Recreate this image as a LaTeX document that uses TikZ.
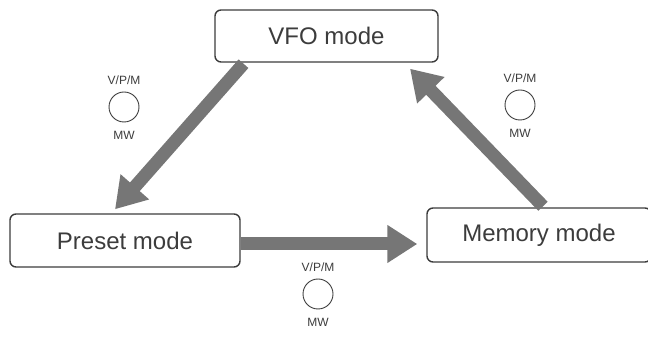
\documentclass[tikz,border=0pt]{standalone}
\usepackage{fontspec}
\setmainfont{Liberation Sans}
\usetikzlibrary{arrows.meta,positioning}
\definecolor{inkgray}{RGB}{60,60,60}
\definecolor{arrowgray}{RGB}{118,118,118}

\begin{document}
\begin{tikzpicture}[x=1pt,y=1pt]
    \tikzstyle{mode}=[draw=inkgray, line width=1.4pt, rounded corners=6pt, text=inkgray, font=\fontsize{24}{28}\selectfont, inner sep=0pt]
    \tikzstyle{switch}=[-{Triangle[length=30pt,width=36pt]}, line width=13pt, draw=arrowgray]
    \tikzstyle{lbl}=[text=inkgray, font=\fontsize{12}{14}\selectfont, inner sep=0pt]
    \tikzstyle{knob}=[draw=inkgray, circle, line width=0.9pt, minimum size=30pt, inner sep=0pt]
    \useasboundingbox (0,0) rectangle (648,345);
    % the three modes
    \node[mode, minimum width=223pt, minimum height=52pt] (vfo) at (326.5,309) {VFO mode};
    \node[mode, minimum width=230pt, minimum height=53pt] (preset) at (125,104.5) {Preset mode};
    \node[mode, minimum width=224pt, minimum height=54pt] (memory) at (539,110) {Memory mode};
    % switching order
    \draw[switch] ([xshift=-83pt,yshift=-1pt]vfo.south) -- ([xshift=-10pt,yshift=4pt]preset.north);
    \draw[switch, shorten >=9pt] ([yshift=-3.5pt]preset.east) -- ([yshift=-3.5pt]preset.east -| memory.west);
    \draw[switch] ([xshift=4pt,yshift=1pt]memory.north) -- ([xshift=83.5pt,yshift=-6pt]vfo.south);
    % key labels
    \node[knob] (knobL) at (124,238) {};
    \node[lbl, above=7pt of knobL] (vpmL) {V/P/M};
    \node[lbl, below=9pt of knobL] (mwL) {MW};
    \node[knob] (knobR) at (520,240) {};
    \node[lbl, above=7pt of knobR] (vpmR) {V/P/M};
    \node[lbl, below=9pt of knobR] (mwR) {MW};
    \node[knob] (knobB) at (318,51) {};
    \node[lbl, above=7pt of knobB] (vpmB) {V/P/M};
    \node[lbl, below=9pt of knobB] (mwB) {MW};
\end{tikzpicture}
\end{document}
